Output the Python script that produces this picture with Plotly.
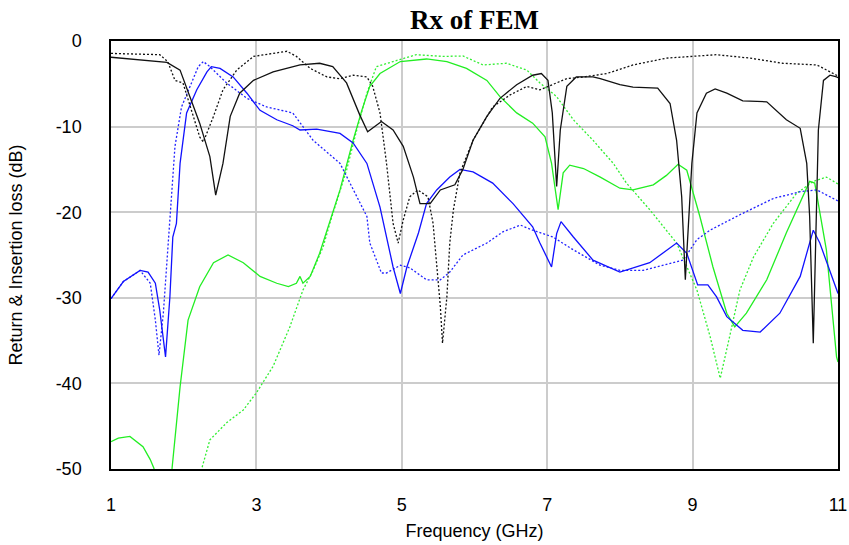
import plotly.graph_objects as go

# ---- data (GHz, dB) ----
blk_solid_x = [1.0, 1.77, 1.95, 2.09, 2.22, 2.36, 2.44, 2.54, 2.64, 2.77, 2.96, 3.23, 3.6, 3.87, 4.05, 4.24,
               4.42, 4.53, 4.72, 4.88, 5.02, 5.16, 5.25, 5.39, 5.53, 5.73, 5.84, 5.98, 6.17, 6.35, 6.58, 6.8,
               6.92, 7.01, 7.07, 7.13, 7.18, 7.27, 7.4, 7.63, 7.73, 8.0, 8.18, 8.52, 8.69, 8.78, 8.85, 8.9,
               8.99, 9.06, 9.19, 9.31, 9.47, 9.69, 10.02, 10.29, 10.48, 10.57, 10.61, 10.66, 10.73, 10.8,
               10.89, 10.98, 11.0]
blk_solid_y = [-1.9, -2.5, -3.4, -6.5, -9.6, -13.5, -18.0, -14.3, -8.8, -6.1, -4.6, -3.6, -2.8, -2.6, -3.0, -4.9,
               -8.6, -10.6, -9.4, -10.4, -12.3, -15.9, -19.0, -19.0, -17.4, -16.8, -15.0, -11.6, -8.8, -6.7, -5.1, -4.0,
               -3.8, -4.6, -8.4, -17.0, -10.4, -5.3, -4.2, -4.2, -4.4, -5.1, -5.4, -5.5, -7.3, -11.6, -18.2, -27.9,
               -14.3, -8.4, -6.1, -5.6, -6.1, -7.0, -7.1, -9.2, -10.2, -14.3, -20.5, -35.3, -10.4, -4.6,
               -4.0, -4.2, -4.3]

blk_dot_x = [1.0, 1.67, 1.78, 1.88, 1.99, 2.09, 2.22, 2.27, 2.41, 2.54, 2.73, 2.96, 3.23, 3.42, 3.55, 3.74,
             3.97, 4.15, 4.33, 4.52, 4.6, 4.7, 4.79, 4.88, 4.95, 5.02, 5.11, 5.22, 5.36, 5.43, 5.53, 5.56,
             5.62, 5.66, 5.71, 5.8, 5.98, 6.25, 6.49, 6.72, 6.9, 7.08, 7.27, 7.5, 7.82, 8.18, 8.64, 9.33,
             9.79, 10.24, 10.71, 10.98, 11.0]
blk_dot_y = [-1.45, -1.6, -2.4, -4.6, -4.9, -7.7, -11.2, -11.8, -8.8, -5.7, -3.4, -1.8, -1.4, -1.2, -1.8, -3.2,
             -4.2, -4.4, -4.0, -4.2, -5.3, -8.4, -14.3, -21.3, -23.6, -20.9, -18.2, -17.4, -18.2, -21.3, -31.0, -35.3,
             -29.9, -23.6, -19.7, -15.4, -11.6, -7.7, -6.3, -5.3, -5.7, -5.1, -4.4, -4.2, -3.8, -2.8, -2.0, -1.6,
             -2.0, -2.6, -2.8, -4.0, -4.1]

blu_solid_x = [1.0, 1.17, 1.4, 1.51, 1.61, 1.67, 1.75, 1.81, 1.85, 1.9, 1.95, 2.04, 2.18, 2.32, 2.38, 2.5,
               2.68, 2.87, 3.05, 3.28, 3.5, 3.6, 3.83, 4.15, 4.33, 4.52, 4.7, 4.88, 4.98, 5.07, 5.23, 5.34,
               5.48, 5.66, 5.8, 5.98, 6.25, 6.53, 6.8, 6.9, 7.06, 7.13, 7.19, 7.36, 7.63, 8.0, 8.41, 8.78,
               8.92, 9.07, 9.21, 9.33, 9.47, 9.69, 9.93, 10.2, 10.48, 10.66, 10.75, 10.89, 11.0]
blu_solid_y = [-30.1, -28.1, -26.8, -27.0, -28.3, -31.4, -36.9, -29.9, -22.9, -21.3, -14.3, -8.4, -5.7, -3.6, -3.0, -3.2,
               -4.2, -6.1, -8.1, -9.2, -9.9, -10.4, -10.3, -10.8, -11.9, -14.3, -19.4, -26.4, -29.5, -26.4, -22.4, -19.0,
               -17.4, -15.9, -15.0, -15.3, -16.6, -19.0, -21.7, -23.6, -26.4, -22.5, -21.1, -22.9, -25.6, -27.0, -25.9, -23.6,
               -24.8, -28.5, -28.5, -29.9, -32.2, -33.8, -34.0, -31.8, -27.5, -22.1, -23.6, -26.8, -29.5]

blu_dot_x = [1.0, 1.17, 1.4, 1.54, 1.61, 1.66, 1.72, 1.77, 1.81, 1.88, 1.97, 2.09, 2.2, 2.27, 2.36, 2.59,
             2.87, 3.14, 3.5, 3.78, 4.15, 4.52, 4.56, 4.72, 4.79, 4.98, 5.11, 5.34, 5.53, 5.66, 5.84, 6.17,
             6.39, 6.63, 6.8, 7.08, 7.36, 7.73, 8.0, 8.32, 8.87, 9.06, 9.24, 9.65, 10.11, 10.48, 10.71, 10.98, 11.0]
blu_dot_y = [-30.1, -28.1, -26.8, -28.3, -32.6, -36.7, -31.8, -25.9, -20.9, -12.3, -7.7, -5.3, -3.0, -2.4, -3.0, -4.9,
             -6.7, -7.7, -8.4, -11.6, -14.3, -20.5, -23.6, -27.1, -27.1, -26.2, -26.5, -27.9, -27.9, -27.0, -25.0, -23.6,
             -22.3, -21.5, -22.1, -22.9, -24.4, -26.2, -26.8, -26.8, -25.6, -23.2, -22.1, -20.3, -18.4, -17.6, -17.4, -18.6, -18.7]

grn_solid_x = [1.0, 1.1, 1.26, 1.44, 1.54, 1.59, 1.65, 1.78, 1.84, 1.95, 2.06, 2.22, 2.41, 2.61, 2.82, 3.05,
               3.28, 3.44, 3.55, 3.6, 3.64, 3.74, 3.87, 3.97, 4.15, 4.33, 4.45, 4.56, 4.7, 4.98, 5.34, 5.62,
               5.89, 6.17, 6.35, 6.58, 6.8, 6.97, 7.06, 7.15, 7.22, 7.31, 7.5, 7.73, 8.0, 8.18, 8.46, 8.64,
               8.8, 8.92, 9.1, 9.28, 9.47, 9.58, 9.74, 10.02, 10.29, 10.61, 10.68, 10.84, 10.98, 11.0]
grn_solid_y = [-46.8, -46.4, -46.2, -47.4, -48.9, -49.9, -53.0, -53.0, -49.9, -40.4, -32.6, -28.7, -25.9, -25.0, -25.9, -27.5,
               -28.3, -28.7, -28.3, -27.5, -28.3, -27.5, -24.8, -22.1, -17.4, -11.6, -8.1, -5.3, -3.8, -2.4, -2.1, -2.4,
               -3.2, -4.6, -6.5, -8.4, -9.6, -11.2, -14.3, -19.7, -15.4, -14.5, -14.9, -15.9, -17.2, -17.4, -16.8, -15.7,
               -14.4, -15.1, -20.5, -26.4, -31.8, -33.4, -31.8, -27.9, -22.4, -16.4, -16.6, -24.4, -36.9, -37.5]

grn_dot_x = [2.18, 2.25, 2.36, 2.59, 2.82, 3.0, 3.23, 3.46, 3.64, 3.78, 3.92, 4.01, 4.24, 4.38, 4.52, 4.65,
             4.88, 5.2, 5.57, 5.84, 6.12, 6.44, 6.72, 6.9, 7.13, 7.36, 7.63, 7.91, 8.09, 8.41, 8.78, 9.06,
             9.24, 9.38, 9.51, 9.65, 9.84, 10.11, 10.43, 10.66, 10.84, 10.98, 11.0]
grn_dot_y = [-53.0, -49.9, -46.6, -44.6, -43.1, -41.1, -38.0, -33.4, -29.1, -26.8, -24.0, -21.3, -15.1, -10.4, -6.1, -3.0,
             -2.4, -1.6, -1.8, -1.75, -2.8, -2.6, -3.4, -4.9, -6.5, -9.2, -11.6, -14.3, -16.6, -19.7, -23.6, -29.1,
             -34.5, -39.4, -34.5, -29.1, -25.2, -21.3, -17.8, -16.4, -15.9, -16.6, -16.7]

x_ticks = [1, 3, 5, 7, 9, 11]
x_labels = ['1', '3', '5', '7', '9', '11']
y_ticks = [0, -10, -20, -30, -40, -50]
y_labels = ['0', '-10', '-20', '-30', '-40', '-50']

series = [
    (grn_dot_x, grn_dot_y, '#33ee33', '2px,2px'),
    (grn_solid_x, grn_solid_y, '#22ee22', 'solid'),
    (blu_dot_x, blu_dot_y, '#2222ff', '2px,2px'),
    (blu_solid_x, blu_solid_y, '#1111ff', 'solid'),
    (blk_dot_x, blk_dot_y, '#111111', '2px,2px'),
    (blk_solid_x, blk_solid_y, '#111111', 'solid'),
]

fig = go.Figure()
for xs, ys, col, dash in series:
    fig.add_trace(go.Scatter(x=xs, y=ys, mode='lines', showlegend=False,
                             line=dict(color=col, width=1.3, dash=dash)))

axis_common = dict(showgrid=True, gridcolor='#cccccc', gridwidth=1.5,
                   showline=True, linecolor='black', linewidth=1.5, mirror=True,
                   zeroline=False, ticks='', automargin=False,
                   tickfont=dict(family='Arial, Liberation Sans', size=18, color='black'))

fig.update_layout(
    width=849, height=545,
    margin=dict(l=111, r=11, t=41, b=76),
    paper_bgcolor='white', plot_bgcolor='white',
    title=dict(text='<b>Rx of FEM</b>', xref='paper', x=0.5, xanchor='center', y=0.965, yanchor='middle',
               font=dict(family='Liberation Serif, Times New Roman', size=27, color='black')),
    xaxis=dict(range=[1, 11], tickvals=x_ticks, ticktext=x_labels, ticklabelstandoff=19,
               title=dict(text='Frequency (GHz)', standoff=10,
                          font=dict(family='Arial, Liberation Sans', size=18, color='black')),
               **axis_common),
    yaxis=dict(range=[-50, 0], tickvals=y_ticks, ticktext=y_labels, ticklabelstandoff=24,
               title=dict(text='Return & Insertion loss (dB)', standoff=28,
                          font=dict(family='Arial, Liberation Sans', size=18, color='black')),
               **axis_common),
)

# page body has a default margin; drop it so the figure sits at the window corner
fig.write_html("out.html", config={'displayModeBar': False},
               post_script="document.body.style.margin='0';document.body.style.padding='0';")
